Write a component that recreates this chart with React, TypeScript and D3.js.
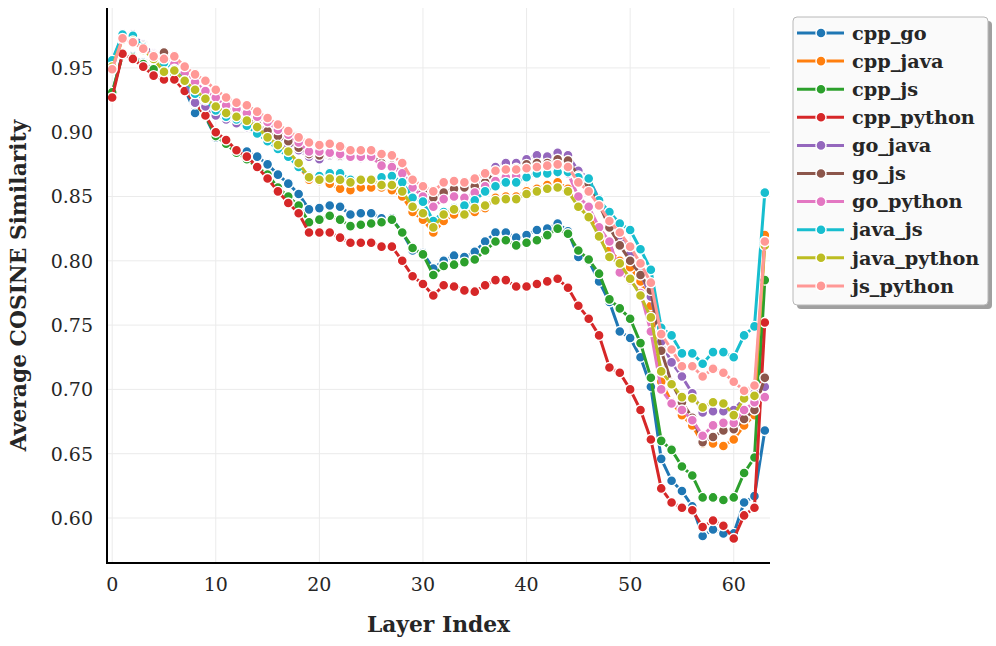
import React from "react";
import * as d3 from "d3";

const layers: number[] = Array.from({ length: 64 }, (_, i) => i);

const seriesNames = [
  "cpp_go", "cpp_java", "cpp_js", "cpp_python", "go_java",
  "go_js", "go_python", "java_js", "java_python", "js_python",
];

const seriesColors = [
  "#1f77b4", "#ff7f0e", "#2ca02c", "#d62728", "#9467bd",
  "#8c564b", "#e377c2", "#17becf", "#bcbd22", "#ff9896",
];

const cpp_go = [
  0.930, 0.961, 0.959, 0.954, 0.949, 0.947, 0.945, 0.934, 0.915, 0.912,
  0.896, 0.892, 0.886, 0.885, 0.881, 0.875, 0.867, 0.860, 0.852, 0.840,
  0.841, 0.843, 0.842, 0.836, 0.837, 0.837, 0.833, 0.833, 0.822, 0.808,
  0.806, 0.794, 0.800, 0.804, 0.803, 0.807, 0.815, 0.822, 0.822, 0.818,
  0.820, 0.824, 0.825, 0.829, 0.823, 0.803, 0.800, 0.784, 0.768, 0.745,
  0.740, 0.725, 0.702, 0.646, 0.629, 0.621, 0.609, 0.586, 0.591, 0.588,
  0.588, 0.612, 0.617, 0.668,
];
const cpp_java = [
  0.953, 0.973, 0.972, 0.965, 0.959, 0.955, 0.950, 0.941, 0.933, 0.926,
  0.919, 0.914, 0.911, 0.907, 0.902, 0.895, 0.888, 0.883, 0.874, 0.863,
  0.862, 0.860, 0.856, 0.855, 0.857, 0.857, 0.857, 0.855, 0.850, 0.838,
  0.832, 0.822, 0.831, 0.836, 0.835, 0.838, 0.841, 0.849, 0.850, 0.850,
  0.854, 0.856, 0.859, 0.861, 0.856, 0.843, 0.835, 0.822, 0.808, 0.800,
  0.795, 0.784, 0.765, 0.706, 0.690, 0.680, 0.672, 0.658, 0.658, 0.656,
  0.661, 0.672, 0.680, 0.820,
];
const cpp_js = [
  0.931, 0.960, 0.958, 0.953, 0.949, 0.946, 0.944, 0.934, 0.922, 0.913,
  0.897, 0.891, 0.884, 0.879, 0.873, 0.867, 0.857, 0.850, 0.843, 0.830,
  0.832, 0.835, 0.832, 0.827, 0.828, 0.829, 0.830, 0.832, 0.822, 0.810,
  0.805, 0.789, 0.796, 0.797, 0.799, 0.801, 0.808, 0.815, 0.816, 0.812,
  0.814, 0.816, 0.820, 0.825, 0.821, 0.808, 0.801, 0.790, 0.770, 0.763,
  0.755, 0.736, 0.709, 0.660, 0.653, 0.640, 0.633, 0.616, 0.616, 0.614,
  0.616, 0.635, 0.647, 0.785,
];
const cpp_python = [
  0.927, 0.961, 0.957, 0.951, 0.944, 0.941, 0.941, 0.932, 0.923, 0.913,
  0.900, 0.894, 0.886, 0.881, 0.873, 0.864, 0.854, 0.845, 0.837, 0.822,
  0.822, 0.822, 0.818, 0.814, 0.814, 0.814, 0.811, 0.811, 0.800, 0.788,
  0.782, 0.773, 0.781, 0.780, 0.777, 0.776, 0.781, 0.785, 0.785, 0.780,
  0.780, 0.782, 0.784, 0.786, 0.779, 0.765, 0.755, 0.742, 0.717, 0.713,
  0.700, 0.684, 0.661, 0.623, 0.612, 0.608, 0.606, 0.593, 0.598, 0.594,
  0.584, 0.602, 0.608, 0.752,
];
const go_java = [
  0.955, 0.975, 0.976, 0.968, 0.961, 0.955, 0.950, 0.940, 0.923, 0.920,
  0.913, 0.910, 0.907, 0.904, 0.900, 0.897, 0.894, 0.890, 0.886, 0.881,
  0.879, 0.882, 0.881, 0.881, 0.880, 0.881, 0.876, 0.874, 0.869, 0.857,
  0.852, 0.850, 0.852, 0.855, 0.857, 0.858, 0.865, 0.873, 0.876, 0.876,
  0.879, 0.882, 0.881, 0.884, 0.882, 0.870, 0.864, 0.848, 0.835, 0.820,
  0.805, 0.790, 0.772, 0.737, 0.721, 0.710, 0.697, 0.682, 0.683, 0.683,
  0.684, 0.693, 0.697, 0.702,
];
const go_js = [
  0.954, 0.974, 0.974, 0.967, 0.960, 0.962, 0.955, 0.945, 0.935, 0.928,
  0.922, 0.918, 0.914, 0.911, 0.906, 0.901, 0.897, 0.893, 0.888, 0.883,
  0.882, 0.883, 0.882, 0.882, 0.881, 0.882, 0.876, 0.874, 0.868, 0.857,
  0.853, 0.849, 0.853, 0.856, 0.857, 0.858, 0.861, 0.869, 0.871, 0.872,
  0.875, 0.876, 0.876, 0.879, 0.878, 0.866, 0.860, 0.844, 0.826, 0.812,
  0.800, 0.789, 0.777, 0.730, 0.705, 0.690, 0.678, 0.659, 0.663, 0.668,
  0.669, 0.677, 0.684, 0.709,
];
const go_python = [
  0.952, 0.974, 0.973, 0.966, 0.960, 0.957, 0.953, 0.946, 0.939, 0.932,
  0.927, 0.921, 0.918, 0.915, 0.912, 0.908, 0.902, 0.898, 0.892, 0.885,
  0.885, 0.884, 0.883, 0.881, 0.881, 0.881, 0.874, 0.873, 0.868, 0.857,
  0.850, 0.842, 0.848, 0.850, 0.849, 0.853, 0.858, 0.862, 0.865, 0.866,
  0.866, 0.868, 0.869, 0.871, 0.868, 0.850, 0.842, 0.826, 0.815, 0.791,
  0.785, 0.775, 0.745, 0.700, 0.689, 0.684, 0.676, 0.664, 0.672, 0.674,
  0.674, 0.684, 0.690, 0.694,
];
const java_js = [
  0.956, 0.976, 0.975, 0.966, 0.959, 0.954, 0.949, 0.940, 0.930, 0.925,
  0.917, 0.912, 0.910, 0.905, 0.899, 0.893, 0.887, 0.881, 0.873, 0.866,
  0.866, 0.868, 0.868, 0.863, 0.863, 0.863, 0.865, 0.866, 0.861, 0.849,
  0.846, 0.831, 0.838, 0.841, 0.843, 0.847, 0.854, 0.858, 0.861, 0.861,
  0.865, 0.868, 0.868, 0.869, 0.869, 0.865, 0.864, 0.847, 0.838, 0.829,
  0.824, 0.809, 0.793, 0.748, 0.742, 0.728, 0.728, 0.720, 0.729, 0.729,
  0.725, 0.742, 0.749, 0.853,
];
const java_python = [
  0.951, 0.972, 0.971, 0.964, 0.957, 0.947, 0.948, 0.940, 0.933, 0.926,
  0.920, 0.915, 0.912, 0.909, 0.904, 0.896, 0.890, 0.885, 0.876, 0.865,
  0.863, 0.864, 0.863, 0.861, 0.863, 0.863, 0.859, 0.859, 0.854, 0.842,
  0.837, 0.826, 0.836, 0.840, 0.836, 0.841, 0.843, 0.847, 0.848, 0.848,
  0.852, 0.854, 0.856, 0.857, 0.854, 0.842, 0.834, 0.819, 0.803, 0.798,
  0.786, 0.773, 0.756, 0.714, 0.704, 0.694, 0.693, 0.686, 0.690, 0.689,
  0.680, 0.693, 0.695, 0.812,
];
const js_python = [
  0.949, 0.973, 0.970, 0.965, 0.959, 0.957, 0.959, 0.951, 0.945, 0.940,
  0.933, 0.927, 0.923, 0.921, 0.916, 0.911, 0.906, 0.901, 0.896, 0.892,
  0.890, 0.891, 0.889, 0.886, 0.886, 0.886, 0.883, 0.882, 0.876, 0.863,
  0.858, 0.854, 0.861, 0.862, 0.861, 0.864, 0.868, 0.870, 0.871, 0.871,
  0.872, 0.873, 0.874, 0.875, 0.873, 0.861, 0.854, 0.843, 0.831, 0.822,
  0.811, 0.798, 0.783, 0.743, 0.731, 0.718, 0.718, 0.710, 0.716, 0.713,
  0.706, 0.699, 0.703, 0.815,
];

const seriesValues = [
  cpp_go, cpp_java, cpp_js, cpp_python, go_java,
  go_js, go_python, java_js, java_python, js_python,
];

const xTicks = [0, 10, 20, 30, 40, 50, 60];
const yTicks = [0.6, 0.65, 0.7, 0.75, 0.8, 0.85, 0.9, 0.95];

const W = 996;
const H = 646;
const plot = { left: 107, right: 770, top: 8, bottom: 563 };
const TEXT = "#262626";
const FONT = "'DejaVu Serif', serif";

export default function App() {
  const x = d3.scaleLinear().domain([-0.5, 63.5]).range([plot.left, plot.right]);
  const y = d3.scaleLinear().domain([0.565, 0.9966]).range([plot.bottom, plot.top]);
  const line = d3
    .line<number>()
    .x((_, i) => x(layers[i]))
    .y((d) => y(d));

  const legendX = 793;
  const legendY = 17;
  const legendW = 195;
  const legendH = 288;
  const rowH = 28.1;

  return (
    <div style={{ position: "absolute", left: 0, top: 0 }}>
      <svg width={W} height={H} style={{ display: "block", background: "#fff" }}>
        <rect x={0} y={0} width={W} height={H} fill="#ffffff" />
        <g>
          {xTicks.map((t) => (
            <line key={"gx" + t} x1={x(t)} x2={x(t)} y1={plot.top} y2={plot.bottom} stroke="#ebebeb" strokeWidth={1} />
          ))}
          {yTicks.map((t) => (
            <line key={"gy" + t} x1={plot.left} x2={plot.right} y1={y(t)} y2={y(t)} stroke="#ebebeb" strokeWidth={1} />
          ))}
        </g>
        <g>
          {seriesValues.map((vals, si) => (
            <g key={seriesNames[si]}>
              <path d={line(vals) || ""} fill="none" stroke={seriesColors[si]} strokeWidth={3} strokeLinejoin="round" />
              {vals.map((v, i) => (
                <circle key={i} cx={x(layers[i])} cy={y(v)} r={5} fill={seriesColors[si]} stroke="#ffffff" strokeWidth={1.4} />
              ))}
            </g>
          ))}
        </g>
        <line x1={plot.left} x2={plot.left} y1={plot.top} y2={plot.bottom + 1} stroke="#000" strokeWidth={2} />
        <line x1={plot.left - 1} x2={plot.right} y1={plot.bottom} y2={plot.bottom} stroke="#000" strokeWidth={2} />
        <g fontFamily={FONT} fontSize={19} fill={TEXT}>
          {yTicks.map((t) => (
            <text key={"ty" + t} x={plot.left - 14} y={y(t)} dy="0.36em" textAnchor="end">
              {d3.format(".2f")(t)}
            </text>
          ))}
          {xTicks.map((t) => (
            <text key={"tx" + t} x={x(t)} y={591} textAnchor="middle">
              {t}
            </text>
          ))}
        </g>
        <text x={(plot.left + plot.right) / 2} y={632} textAnchor="middle" fontFamily={FONT} fontWeight="bold" fontSize={21.8} fill={TEXT}>
          Layer Index
        </text>
        <text
          transform={`translate(26, ${(plot.top + plot.bottom) / 2}) rotate(-90)`}
          textAnchor="middle"
          fontFamily={FONT}
          fontWeight="bold"
          fontSize={21.8}
          fill={TEXT}
        >
          Average COSINE Similarity
        </text>
        <g>
          <rect x={legendX + 4} y={legendY + 4} width={legendW} height={legendH} rx={4} fill="#888" opacity={0.8} />
          <rect x={legendX} y={legendY} width={legendW} height={legendH} rx={4} fill="#fafafa" stroke="#b8b8b8" strokeWidth={1} />
          {seriesNames.map((name, si) => {
            const cy = legendY + 16 + si * rowH;
            return (
              <g key={"lg" + name}>
                <line x1={legendX + 4} x2={legendX + 51} y1={cy} y2={cy} stroke={seriesColors[si]} strokeWidth={3} />
                <circle cx={legendX + 28} cy={cy} r={5} fill={seriesColors[si]} stroke="#fff" strokeWidth={1.4} />
                <text x={legendX + 59} y={cy} dy="0.35em" fontFamily={FONT} fontWeight="bold" fontSize={19.3} fill={TEXT}>
                  {name}
                </text>
              </g>
            );
          })}
        </g>
      </svg>
    </div>
  );
}
